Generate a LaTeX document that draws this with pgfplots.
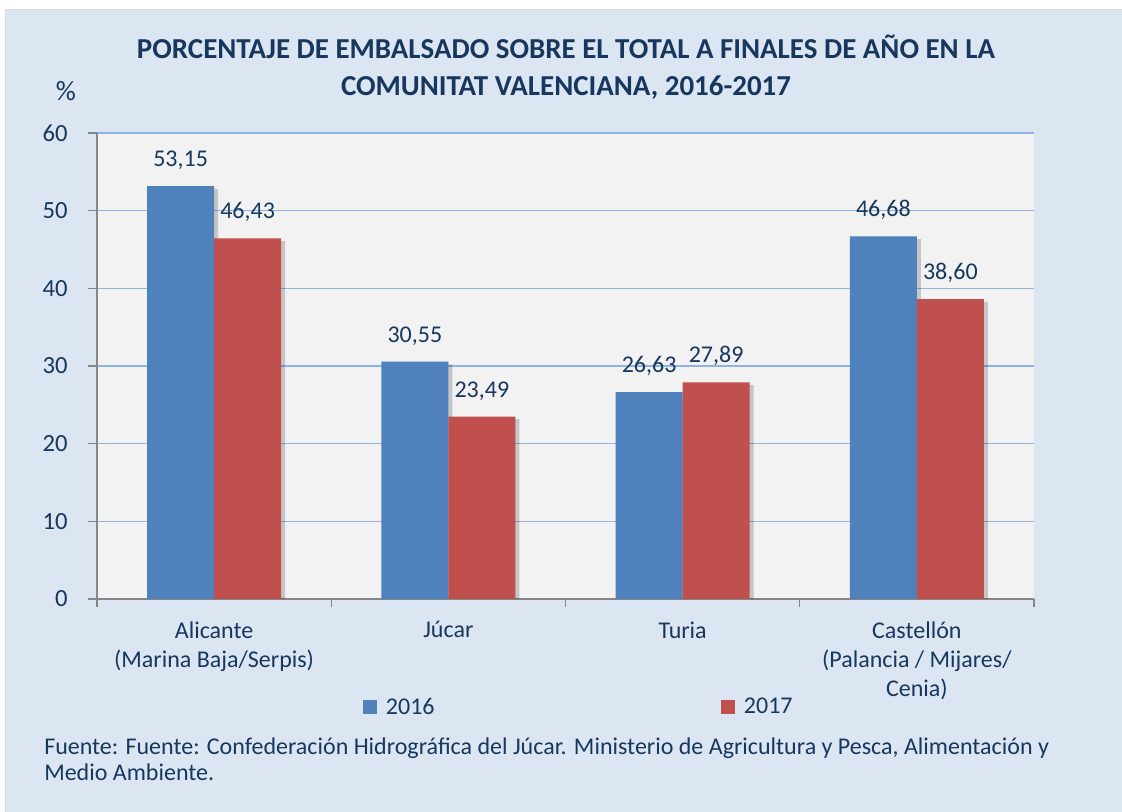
\documentclass[border=0pt]{standalone}
\usepackage{pgfplots}
\usepackage{pgfplotstable}
\pgfplotsset{compat=1.18}
\usepackage{fontspec}
\setmainfont{Carlito}
\definecolor{bgblue}{HTML}{DCE6F2}
\definecolor{plotgray}{HTML}{F2F2F2}
\definecolor{gridblue}{HTML}{8EB4E3}
\definecolor{navy}{HTML}{17375E}
\definecolor{barblue}{HTML}{4F81BD}
\definecolor{barred}{HTML}{C0504D}
\definecolor{axisgray}{HTML}{868686}
\definecolor{edgegray}{HTML}{D9D9D9}
\pgfplotstableread{
x y
0 53.15
1 30.55
2 26.63
3 46.68
}\dataA
\pgfplotstableread{
x y
0 46.43
1 23.49
2 27.89
3 38.60
}\dataB
\begin{document}
\begin{tikzpicture}
\useasboundingbox (0pt,0pt) rectangle (841.5pt,609pt);
\fill[white] (0pt,0pt) rectangle (841.5pt,609pt);
\fill[bgblue] (4.5pt,0pt) rectangle (841.5pt,601.5pt);
\draw[edgegray, line width=0.9pt] (4.1pt,0pt) -- (4.1pt,601.9pt) -- (841.5pt,601.9pt);
\node[anchor=base, font=\fontsize{21.7}{26}\selectfont\bfseries, text=navy] at (424.5pt,564.75pt) {PORCENTAJE DE EMBALSADO SOBRE EL TOTAL A FINALES DE AÑO EN LA};
\node[anchor=base, font=\fontsize{21.7}{26}\selectfont\bfseries, text=navy] at (424.5pt,537pt) {COMUNITAT VALENCIANA, 2016-2017};
\node[anchor=base, font=\fontsize{21}{25}\selectfont, text=navy] at (49.5pt,533.25pt) {\%};
\node[anchor=base west, font=\fontsize{18}{21}\selectfont, text=navy, inner sep=0pt] at (33pt,42.75pt) {Fuente: Fuente: Confederación Hidrográfica del Júcar. Ministerio de Agricultura y Pesca, Alimentación y};
\node[anchor=base west, font=\fontsize{18}{21}\selectfont, text=navy, inner sep=0pt] at (33pt,23.25pt) {Medio Ambiente.};
\begin{axis}[
  at={(72.75pt,159.75pt)}, anchor=south west,
  scale only axis, width=702.75pt, height=349.5pt,
  /pgf/number format/assume math mode=true,
  axis background/.style={fill=plotgray},
  axis x line*=bottom, axis y line*=left,
  axis line style={draw=axisgray, line width=1pt},
  ymin=0, ymax=60, ytick={0,10,...,60},
  xmin=-0.5, xmax=3.5,
  xtick={0,1,2,3},
  xticklabels={{Alicante\\(Marina Baja/Serpis)},{Júcar},{Turia},{Castellón\\(Palancia / Mijares/\\Cenia)}},
  minor xtick={-0.5,0.5,1.5,2.5,3.5},
  tick align=outside,
  major tick length=6.75pt, minor tick length=6pt,
  major x tick style={draw=none},
  every tick/.style={draw=axisgray, line width=1pt},
  ymajorgrids,
  y grid style={draw=gridblue, line width=0.9pt},
  x tick label style={align=center, font=\fontsize{18}{21.75}\selectfont, text=navy, anchor=north, inner sep=0pt, yshift=-10pt},
  y tick label style={font=\fontsize{18.5}{21.75}\selectfont, text=navy, anchor=east, inner sep=0pt, xshift=-15pt},
  ybar, bar width=50.25pt,
  legend columns=2,
  legend style={at={(0.2839,-0.2318)}, anchor=west, draw=none, fill=none, inner sep=0pt,
    font=\fontsize{18}{21.75}\selectfont, text=navy,
    /tikz/every odd column/.append style={column sep=4.5pt},
    /tikz/every even column/.append style={column sep=213pt}},
  legend image code/.code={\fill[#1,draw=none] (0pt,-5.25pt) rectangle (10.5pt,5.25pt);},
  every node near coord/.append style={font=\fontsize{18}{21.75}\selectfont, text=navy, anchor=base, inner sep=0pt, yshift=14.6pt},
]
\addplot[fill=black, fill opacity=0.18, draw=none, bar shift=-22.125pt, yshift=-2pt, forget plot] table[x=x,y=y] {\dataA};
\addplot[fill=barblue, draw=none, bar shift=-25.125pt,
  nodes near coords={\pgfmathprintnumber[fixed, fixed zerofill, precision=2, use comma]{\pgfplotspointmeta}}] table[x=x,y=y] {\dataA};
\addplot[fill=black, fill opacity=0.18, draw=none, bar shift=28.125pt, yshift=-2pt, forget plot] table[x=x,y=y] {\dataB};
\addplot[fill=barred, draw=none, bar shift=25.125pt,
  nodes near coords={\pgfmathprintnumber[fixed, fixed zerofill, precision=2, use comma]{\pgfplotspointmeta}}] table[x=x,y=y] {\dataB};
\legend{2016,2017}
\end{axis}
\end{tikzpicture}
\end{document}
